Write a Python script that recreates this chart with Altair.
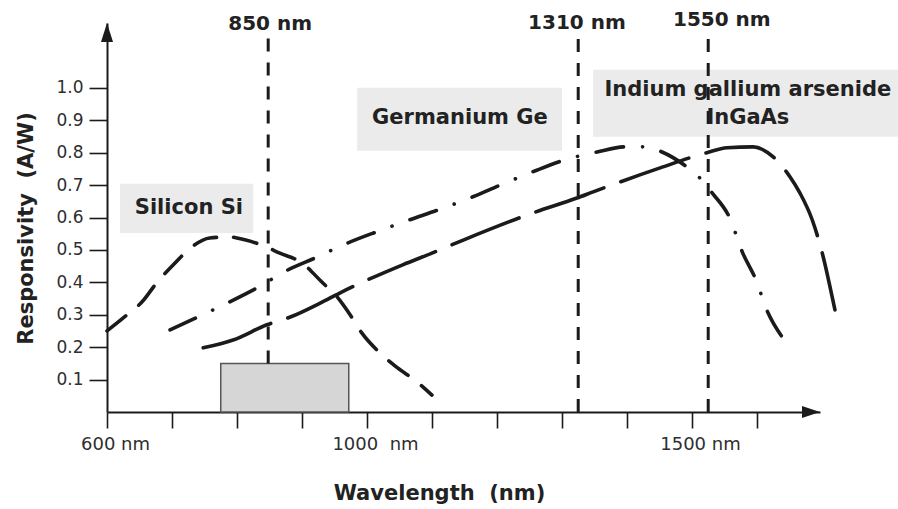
import altair as alt
import pandas as pd

# ---------------- data ----------------
si_nm = [600, 631, 654, 677, 702, 731, 758, 789, 812, 838, 866, 900, 931, 954, 974, 992, 1020, 1043, 1077, 1100]
si_resp = [0.25, 0.30, 0.34, 0.40, 0.454, 0.51, 0.537, 0.54, 0.531, 0.515, 0.49, 0.46, 0.40, 0.355, 0.30,
           0.244, 0.182, 0.142, 0.093, 0.052]

ge_nm = [697, 763, 831, 878, 920, 971, 1015, 1066, 1109, 1163, 1205, 1255, 1300, 1354, 1397, 1428, 1454,
         1492, 1515, 1531, 1558, 1578, 1597, 1617, 1640]
ge_resp = [0.253, 0.315, 0.383, 0.438, 0.475, 0.522, 0.556, 0.593, 0.623, 0.664, 0.70, 0.741, 0.775, 0.802,
           0.818, 0.818, 0.802, 0.756, 0.716, 0.676, 0.599, 0.491, 0.414, 0.306, 0.228]

ingaas_nm = [748, 794, 846, 882, 928, 958, 1055, 1100, 1150, 1255, 1323, 1348, 1451, 1523, 1554, 1594, 1625,
             1651, 1666, 1685, 1702, 1712, 1720]
ingaas_resp = [0.198, 0.222, 0.269, 0.293, 0.336, 0.367, 0.454, 0.49, 0.532, 0.614, 0.66, 0.679, 0.753, 0.80,
               0.815, 0.818, 0.787, 0.725, 0.676, 0.593, 0.478, 0.39, 0.315]

x_ticks = [600, 700, 800, 900, 1000, 1100, 1200, 1300, 1400, 1500, 1600]
y_ticks = [0.1, 0.2, 0.3, 0.4, 0.5, 0.6, 0.7, 0.8, 0.9, 1.0]

# marker wavelength lines (as drawn) and their labels
line_nm = [848, 1325, 1525]
line_lo = [0.15, 0.0, 0.0]
line_hi = [1.154, 1.154, 1.154]
top_labels = ["850 nm", "1310 nm", "1550 nm"]
top_label_nm = [851, 1323, 1546]
top_label_resp = [1.198, 1.2, 1.21]

# material label boxes
box_x0 = [620, 985, 1348]
box_x1 = [825, 1300, 1817]
box_y0 = [0.552, 0.806, 0.849]
box_y1 = [0.704, 1.0, 1.056]
mat_labels = ["Silicon Si", "Germanium Ge", "Indium gallium arsenide", "InGaAs"]
mat_label_nm = [726, 1143, 1586, 1586]
mat_label_resp = [0.63, 0.907, 0.994, 0.907]

# shaded band
band_nm = [775, 972]
band_resp = [0.0, 0.15]

X_MAX = 1697
Y_MAX = 1.2

INK = "#1b1b1b"
FONT = "DejaVu Sans"

# ---------------- scales / axes ----------------
x_scale = alt.Scale(domain=[600, X_MAX], nice=False, zero=False)
y_scale = alt.Scale(domain=[0, Y_MAX], nice=False, zero=True)

x_axis = alt.Axis(
    values=x_ticks, grid=False, tickSize=16, tickWidth=1.6, tickColor=INK,
    domainColor=INK, domainWidth=2,
    labelExpr="datum.value == 600 ? '600 nm' : datum.value == 1000 ? '1000 \u00a0nm' : datum.value == 1500 ? '1500 nm' : ''",
    labelFont=FONT, labelFontSize=18, labelColor="#2e2e2e", labelPadding=7, labelOffset=8,
    labelFlush=False, labelOverlap=False,
    title="Wavelength\u00a0\u00a0(nm)", titleFont=FONT, titleFontSize=21, titleFontWeight="bold",
    titleColor="#222222", titleX=332, titleY=81, titleBaseline="middle", titleAlign="center",
)
y_axis = alt.Axis(
    values=y_ticks, format=".1f", grid=False, tickSize=18, tickWidth=1.6, tickColor=INK,
    domainColor=INK, domainWidth=2,
    labelFont=FONT, labelFontSize=17, labelColor="#2e2e2e", labelPadding=6,
    title="Responsivity\u00a0\u00a0(A/W)", titleFont=FONT, titleFontSize=21, titleFontWeight="bold",
    titleColor="#222222", titleX=-81, titleY=205, titleBaseline="middle", titleAlign="center", titleAngle=-90,
)


def X(field):
    return alt.X(field, type="quantitative", scale=x_scale, axis=x_axis)


def Y(field):
    return alt.Y(field, type="quantitative", scale=y_scale, axis=y_axis)


# ---------------- tables ----------------
boxes = pd.DataFrame({"x0": box_x0, "x1": box_x1, "y0": box_y0, "y1": box_y1})
band = pd.DataFrame({"x0": [band_nm[0]], "x1": [band_nm[1]], "y0": [band_resp[0]], "y1": [band_resp[1]]})
vlines = pd.DataFrame({"x": line_nm, "y0": line_lo, "y1": line_hi})
toplab = pd.DataFrame({"x": top_label_nm, "y": top_label_resp, "t": top_labels})
matlab = pd.DataFrame({"x": mat_label_nm, "y": mat_label_resp, "t": mat_labels})
si = pd.DataFrame({"x": si_nm, "y": si_resp})
ge = pd.DataFrame({"x": ge_nm, "y": ge_resp})
ig = pd.DataFrame({"x": ingaas_nm, "y": ingaas_resp})
x_arrow = pd.DataFrame({"x": [X_MAX], "y": [0.0]})
y_arrow = pd.DataFrame({"x": [600], "y": [Y_MAX]})

# ---------------- layers ----------------
box_layer = alt.Chart(boxes).mark_rect(fill="#ebebeb").encode(
    x=X("x0"), x2="x1", y=Y("y0"), y2="y1")

band_layer = alt.Chart(band).mark_rect(fill="#d6d6d6", stroke="#555555", strokeWidth=1.5).encode(
    x=X("x0"), x2="x1", y=Y("y0"), y2="y1")

vline_layer = alt.Chart(vlines).mark_rule(color=INK, strokeWidth=3, strokeDash=[13, 11]).encode(
    x=X("x"), y=Y("y0"), y2="y1")


def curve(df, dash):
    return alt.Chart(df).mark_line(color=INK, strokeWidth=3.6, strokeDash=dash, strokeCap="round",
                                   interpolate="monotone", clip=False).encode(x=X("x"), y=Y("y"))


si_layer = curve(si, [24, 17])
ge_layer = curve(ge, [28, 19, 0.1, 19])
ig_layer = curve(ig, [72, 18])

toplab_layer = alt.Chart(toplab).mark_text(font=FONT, fontSize=20, fontWeight="bold", color="#222222",
                                           baseline="middle", align="center").encode(
    x=X("x"), y=Y("y"), text="t")

matlab_layer = alt.Chart(matlab).mark_text(font=FONT, fontSize=21, fontWeight="bold", color="#222222",
                                           baseline="middle", align="center").encode(
    x=X("x"), y=Y("y"), text="t")

x_arrow_layer = alt.Chart(x_arrow).mark_point(shape="M 0 0 L -1.8 -0.6 L -1.8 0.6 Z", size=400, filled=True,
                                              opacity=1, color=INK, strokeWidth=0).encode(x=X("x"), y=Y("y"))
y_arrow_layer = alt.Chart(y_arrow).mark_point(shape="M 0 0 L -0.6 1.9 L 0.6 1.9 Z", size=400, filled=True,
                                              opacity=1, color=INK, strokeWidth=0).encode(x=X("x"), y=Y("y"))

chart = alt.layer(
    box_layer, band_layer, vline_layer, si_layer, ge_layer, ig_layer,
    toplab_layer, matlab_layer, x_arrow_layer, y_arrow_layer,
).properties(
    width=713, height=389,
    autosize=alt.AutoSizeParams(type="none"),
    padding={"left": 107, "top": 23, "right": 78, "bottom": 97},
    background="white",
).configure_view(stroke=None)

chart.save("out.html", embed_options={"renderer": "svg", "actions": False})
